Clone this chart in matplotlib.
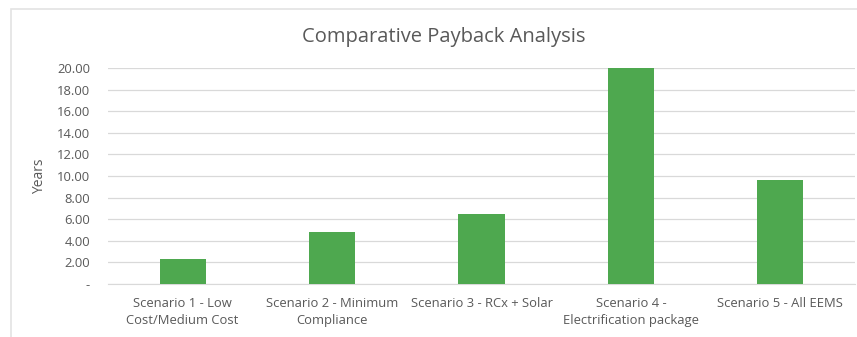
import matplotlib
matplotlib.use('Agg')
import matplotlib.pyplot as plt
from matplotlib.patches import Rectangle

scenarios = ['Scenario 1 - Low\nCost/Medium Cost',
             'Scenario 2 - Minimum\nCompliance',
             'Scenario 3 - RCx + Solar',
             'Scenario 4 -\nElectrification package',
             'Scenario 5 - All EEMS']
payback_years = [2.31, 4.84, 6.45, 20.0, 9.65]
y_ticks = [0, 2, 4, 6, 8, 10, 12, 14, 16, 18, 20]
y_tick_labels = ['-'] + ['%.2f' % v for v in y_ticks[1:]]

plt.rcParams['font.family'] = ['Open Sans', 'DejaVu Sans']
text_color = '#595959'
bar_color = '#4ea84f'
grid_color = '#d9d9d9'

fig = plt.figure(figsize=(8.57, 3.37), dpi=100)
ax = fig.add_axes([0.126, 0.157, 0.8717, 0.641])

# outer chart frame (left and top edges)
fig.patches.append(Rectangle((11 / 857, -0.1), 1.2, 1 - 9 / 337 + 0.1,
                             transform=fig.transFigure, fill=False,
                             edgecolor='#e3e3e3', linewidth=1.2))

x = range(len(scenarios))
ax.bar(x, payback_years, width=0.31, color=bar_color, zorder=3)

ax.set_xlim(-0.5, len(scenarios) - 0.5)
ax.set_ylim(0, 20)
ax.set_yticks(y_ticks)
ax.set_yticklabels(y_tick_labels)
ax.set_xticks(list(x))
ax.set_xticklabels(scenarios, linespacing=1.4)

ax.grid(axis='y', color=grid_color, linewidth=0.9, zorder=0)
for side in ['top', 'right', 'left']:
    ax.spines[side].set_visible(False)
ax.spines['bottom'].set_color(grid_color)
ax.tick_params(axis='both', length=0, colors=text_color, labelsize=9.4)
ax.tick_params(axis='y', pad=13)
ax.tick_params(axis='x', pad=9)

ax.set_ylabel('Years', color=text_color, fontsize=10)
ax.yaxis.set_label_coords(-0.082, 0.5)

fig.text(443.5 / 857, 1 - 37 / 337, 'Comparative Payback Analysis',
         ha='center', va='center', fontsize=14.5, color=text_color)

fig.savefig('out.png', dpi=100, facecolor='white')
